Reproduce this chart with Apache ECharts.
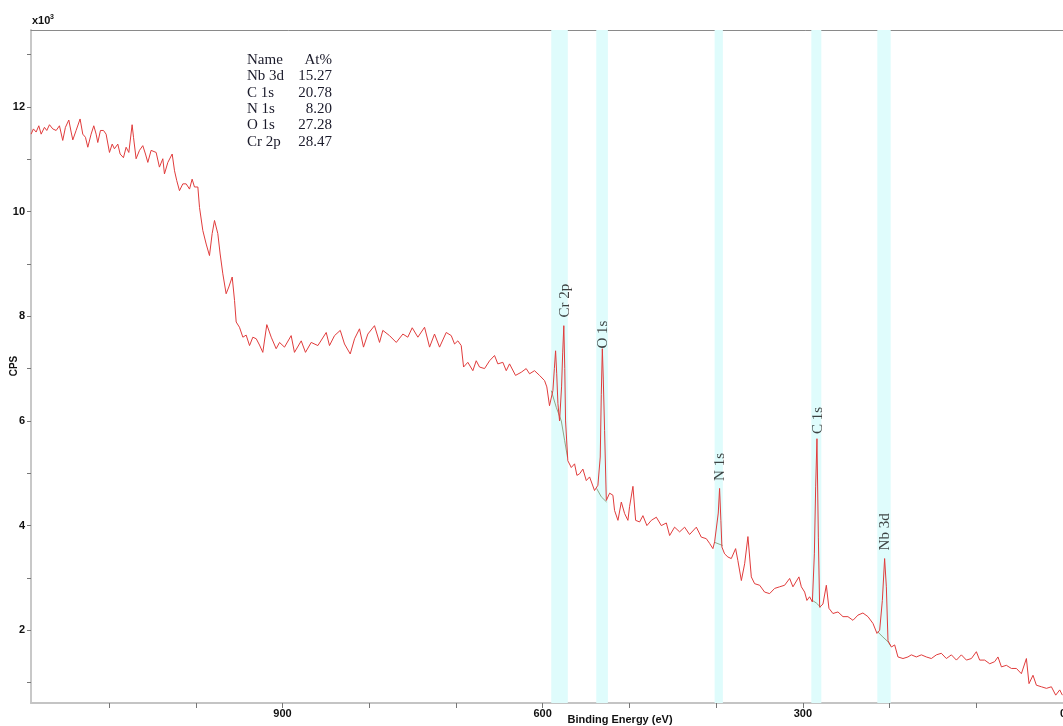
<!DOCTYPE html>
<html>
<head>
<meta charset="utf-8">
<style>html,body{margin:0;padding:0;background:#fff}#chart{width:1063px;height:726px}</style>
<script src="https://cdn.jsdelivr.net/npm/echarts@6/dist/echarts.min.js"></script>
</head>
<body>
<div id="chart"></div>
<script>
// Binding energy (eV) and counts (x10^3 CPS)
const energy = [
1189.9,1187.2,1184.1,1181.0,1178.3,1174.5,1171.8,1168.7,1164.9,1161.0,1157.2,1153.4,1150.3,1146.4,1143.7,1141.8,1138.0,1133.4,1130.3,1127.2,
1124.5,1120.7,1117.6,1114.9,1113.0,1109.9,1106.4,1103.4,1099.5,1096.4,1093.8,1089.9,1087.2,1083.4,1080.3,1077.2,1073.4,1071.8,1068.8,1064.9,
1061.1,1058.0,1055.3,1051.5,1045.7,1041.9,1038.0,1036.1,1032.2,1027.2,1024.5,1021.9,1018.8,1014.9,1011.1,1007.2,1004.2,1001.5,997.6,995.7,
991.9,988.0,984.2,981.1,978.4,974.6,971.9,968.8,965.0,961.9,958.0,955.3,953.4,949.6,945.7,941.9,938.0,934.2,930.3,926.5,
922.7,918.1,913.0,907.3,903.4,897.7,890.0,886.2,878.4,873.5,866.9,859.2,849.6,845.8,840.0,833.4,828.5,821.9,816.9,811.2,
806.6,801.6,793.9,788.1,784.3,776.6,768.8,761.2,755.5,750.4,743.9,736.2,730.4,724.7,718.9,711.2,705.4,701.6,697.8,693.9,
691.2,686.3,680.5,676.6,672.8,667.0,661.2,655.5,651.7,645.9,642.0,638.2,631.3,624.7,619.0,615.1,609.4,603.6,597.8,595.2,
592.1,588.2,586.5,585.1,583.8,582.4,580.5,578.2,576.9,575.6,574.5,573.6,571.0,567.0,563.2,560.5,557.4,553.6,549.7,545.9,
540.2,536.3,533.6,532.4,531.2,530.1,528.6,526.6,522.8,519.0,517.1,513.2,509.3,505.5,501.7,499.8,495.9,492.8,488.2,484.4,
479.8,474.7,468.9,463.2,457.4,453.6,447.9,442.1,436.3,430.6,422.8,417.1,411.3,407.5,403.7,401.7,399.8,397.5,396.0,394.5,
393.3,390.2,386.4,382.5,377.5,374.9,370.9,367.1,363.3,359.4,355.6,349.8,344.1,338.3,332.5,326.8,321.0,315.2,311.4,304.5,
301.7,297.9,295.3,292.2,289.0,286.7,285.2,283.7,282.1,280.6,276.8,272.9,269.9,265.3,259.5,253.7,248.0,242.2,236.4,230.7,
224.9,219.1,214.5,211.4,208.3,205.7,203.7,201.8,197.9,194.1,190.3,184.5,178.8,174.9,169.1,163.3,157.6,151.8,146.0,140.3,
134.5,128.7,122.9,117.2,111.4,105.6,99.9,96.1,90.3,84.5,78.8,75.0,71.0,65.3,59.5,53.7,48.0,42.2,39.2,34.6,
30.7,24.9,19.1,13.4,8.4,3.8,0.7
];
const cps = [
11.48,11.58,11.52,11.64,11.48,11.61,11.55,11.66,11.58,11.55,11.64,11.36,11.61,11.75,11.52,11.37,11.55,11.77,11.48,11.42,
11.23,11.48,11.64,11.48,11.32,11.55,11.55,11.48,11.13,11.29,11.20,11.29,11.10,11.03,11.23,11.13,11.66,11.42,11.01,11.17,
11.26,11.10,10.94,11.17,11.13,10.85,11.01,10.72,10.94,11.10,10.78,10.59,10.40,10.53,10.53,10.43,10.62,10.47,10.47,10.08,
9.64,9.38,9.16,9.58,9.83,9.58,9.19,8.81,8.43,8.56,8.75,8.30,7.89,7.79,7.60,7.64,7.44,7.60,7.57,7.45,
7.31,7.84,7.60,7.38,7.50,7.41,7.63,7.31,7.53,7.31,7.50,7.44,7.69,7.44,7.63,7.73,7.47,7.28,7.57,7.76,
7.41,7.66,7.82,7.50,7.73,7.63,7.50,7.66,7.60,7.78,7.60,7.79,7.41,7.66,7.41,7.69,7.63,7.47,7.53,7.44,
7.03,7.12,6.96,7.15,7.03,7.00,7.15,7.25,7.09,7.12,6.96,7.09,6.87,6.93,7.00,6.90,6.96,6.87,6.77,6.65,
6.29,6.58,7.00,7.34,6.90,6.33,6.00,6.65,7.30,7.82,7.00,6.00,5.24,5.11,5.18,4.96,4.99,5.08,4.86,4.93,
4.67,4.77,5.31,6.50,7.38,6.80,5.82,4.48,4.62,4.58,4.29,4.10,4.45,4.23,4.10,4.36,4.75,4.10,4.07,4.19,
4.00,4.10,4.16,4.00,4.05,3.81,3.97,3.88,3.97,3.83,3.97,3.78,3.75,3.66,3.56,3.69,3.67,4.24,4.71,4.10,
3.59,3.46,3.40,3.37,3.56,3.33,2.95,3.27,3.79,3.02,2.89,2.86,2.73,2.70,2.80,2.83,2.86,2.99,2.83,3.02,
2.83,2.73,2.57,2.64,2.54,3.46,4.74,5.66,3.78,2.44,2.50,2.86,2.42,2.32,2.35,2.26,2.26,2.19,2.29,2.33,
2.26,2.13,1.94,2.00,2.57,3.37,2.83,1.80,1.68,1.72,1.49,1.46,1.49,1.53,1.49,1.53,1.49,1.46,1.53,1.56,
1.46,1.53,1.43,1.53,1.43,1.46,1.59,1.43,1.43,1.36,1.40,1.49,1.30,1.33,1.27,1.27,1.17,1.46,0.98,1.14,
0.95,0.92,0.89,0.92,0.76,0.86,0.76
];

// Fitted background under the peaks (null = gap between regions)
const bgEnergy = [590.1,584.3,578.5,574.7,571.3,null,537.8,532.4,526.3,null,401.7,392.5,null,289.8,284.4,279.5,null,213.7,207.6,201.8,198.7];
const bgCps    = [6.58,6.26,6.00,5.63,5.30,null,4.71,4.55,4.45,null,3.68,3.62,null,2.58,2.52,2.44,null,1.97,1.87,1.78,1.70];

// Peak region bands (eV)
const bandHigh = [590.1, 538.2, 401.7, 290.2, 214.1];
const bandLow  = [571.0, 524.8, 392.2, 278.7, 198.7];

// Peak labels
const peakNames  = ['Cr 2p', 'O 1s', 'N 1s', 'C 1s', 'Nb 3d'];
const peakLabelE = [573.6, 530.9, 396.0, 282.9, 205.6];
const peakLabelV = [8.30, 7.65, 5.12, 6.01, 3.88];

// Quantification table
const tableNames  = ['Nb 3d', 'C 1s', 'N 1s', 'O 1s', 'Cr 2p'];
const tableValues = ['15.27', '20.78', '8.20', '27.28', '28.47'];

// Axis ticks and labels
const xTickValues  = [0,100,200,300,400,500,600,700,800,900,1000,1100];
const xLabelValues = [0,300,600,900];
const yTickValues  = [1,2,3,4,5,6,7,8,9,10,11,12,13];
const yLabelValues = [2,4,6,8,10,12];

const sans = "'Liberation Sans', Arial, sans-serif";
const serif = "'Liberation Serif', 'Times New Roman', serif";

// split background into segments
const bgSegments = [];
let seg = [];
bgEnergy.forEach((e, i) => {
  if (e === null) { if (seg.length) bgSegments.push(seg); seg = []; }
  else seg.push([e, bgCps[i]]);
});
if (seg.length) bgSegments.push(seg);

const chart = echarts.init(document.getElementById('chart'), null, {renderer: 'canvas'});

const series = [
  {
    type: 'line',
    data: energy.map((e, i) => [e, cps[i]]),
    showSymbol: false,
    symbol: 'none',
    z: 4,
    lineStyle: {color: '#e03c3c', width: 1},
    markArea: {
      silent: true,
      itemStyle: {color: '#dffcfc'},
      data: bandHigh.map((h, i) => [{xAxis: h}, {xAxis: bandLow[i]}])
    }
  }
];
bgSegments.forEach(s => {
  series.push({
    type: 'line', data: s, showSymbol: false, symbol: 'none', z: 3,
    lineStyle: {color: '#8fa888', width: 1}
  });
});
series.push({
  type: 'scatter',
  data: peakNames.map((n, i) => ({name: n, value: [peakLabelE[i], peakLabelV[i]]})),
  symbolSize: 0.1,
  itemStyle: {color: 'rgba(0,0,0,0)'},
  z: 6,
  label: {
    show: true, position: 'inside', rotate: 90, formatter: '{b}',
    fontFamily: serif, fontSize: 15, color: '#111'
  }
});

const graphics = [
  {type: 'text', x: 32, y: 26, style: {text: 'x10', font: 'bold 11px ' + sans, fill: '#111', textVerticalAlign: 'bottom'}},
  {type: 'text', x: 50, y: 21, style: {text: '3', font: 'bold 7px ' + sans, fill: '#111', textVerticalAlign: 'bottom'}},
  {type: 'text', x: 14, y: 366, rotation: Math.PI / 2, style: {text: 'CPS', font: 'bold 10px ' + sans, fill: '#111', textAlign: 'center', textVerticalAlign: 'middle'}},
  {type: 'text', x: 620, y: 720, style: {text: 'Binding Energy (eV)', font: 'bold 11px ' + sans, fill: '#111', textAlign: 'center', textVerticalAlign: 'middle'}},
  {type: 'text', x: 247, y: 60, style: {text: 'Name', font: '15px ' + serif, fill: '#1a1a2a', textAlign: 'left', textVerticalAlign: 'middle'}},
  {type: 'text', x: 332, y: 60, style: {text: 'At%', font: '15px ' + serif, fill: '#1a1a2a', textAlign: 'right', textVerticalAlign: 'middle'}}
];
tableNames.forEach((n, i) => {
  const y = 76.3 + i * 16.35;
  graphics.push({type: 'text', x: 247, y: y, style: {text: n, font: '15px ' + serif, fill: '#1a1a2a', textAlign: 'left', textVerticalAlign: 'middle'}});
  graphics.push({type: 'text', x: 332, y: y, style: {text: tableValues[i], font: '15px ' + serif, fill: '#1a1a2a', textAlign: 'right', textVerticalAlign: 'middle'}});
});

chart.setOption({
  animation: false,
  grid: {left: 31, right: 0, top: 30, bottom: 23, containLabel: false, outerBoundsMode: 'none'},
  xAxis: [
    {
      type: 'value', min: 0, max: 1190, inverse: true,
      axisLine: {show: true, onZero: false, lineStyle: {color: '#c4c4c4', width: 2}},
      axisTick: {show: true, customValues: xTickValues, length: 5, lineStyle: {color: '#777'}},
      axisLabel: {customValues: xLabelValues, color: '#111', fontWeight: 'bold', fontSize: 11, fontFamily: sans, margin: 5},
      splitLine: {show: false}
    },
    {
      type: 'value', min: 0, max: 1190, inverse: true, position: 'top',
      axisLine: {show: true, onZero: false, lineStyle: {color: '#8a8a8a', width: 1}},
      axisTick: {show: false}, axisLabel: {show: false}, splitLine: {show: false}
    }
  ],
  yAxis: {
    type: 'value', min: 0.61, max: 13.47,
    axisLine: {show: true, onZero: false, lineStyle: {color: '#c8c8c8', width: 2}},
    axisTick: {show: true, customValues: yTickValues, length: 4, lineStyle: {color: '#777'}},
    axisLabel: {customValues: yLabelValues, color: '#111', fontWeight: 'bold', fontSize: 11, fontFamily: sans, margin: 6},
    splitLine: {show: false}
  },
  series: series,
  graphic: graphics
});
</script>
</body>
</html>
